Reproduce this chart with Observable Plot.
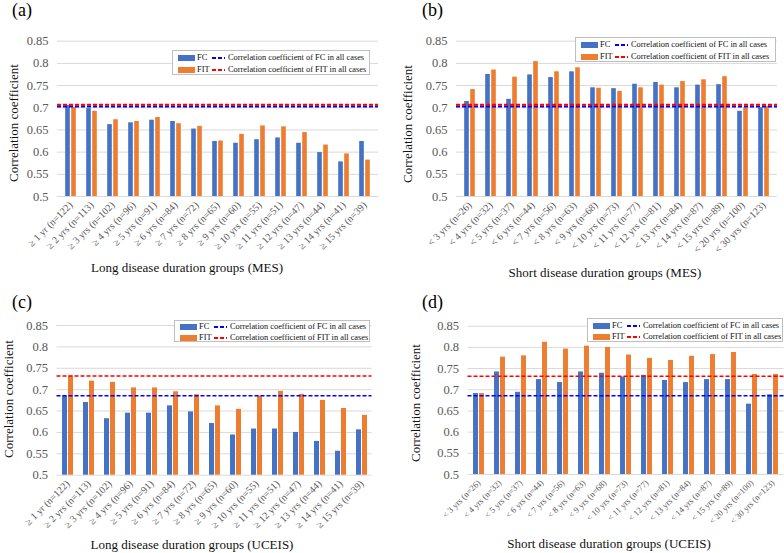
<!DOCTYPE html>
<html>
<head>
<meta charset="utf-8">
<script src="https://cdn.jsdelivr.net/npm/d3@7"></script>
<script src="https://cdn.jsdelivr.net/npm/@observablehq/plot@0.6"></script>
<style>
  html, body { margin: 0; padding: 0; background: #fff; }
  #wrap { position: relative; width: 784px; height: 553px; overflow: hidden; }
  #wrap, #wrap div, #wrap svg, #wrap text { font-family: "Liberation Serif", serif !important; }
  .panel { position: absolute; }
  .panel svg { position: absolute; left: 0; top: 0; overflow: visible; }
  .tag { position: absolute; font-size: 18px; line-height: 1; color: #000; }
  .xtitle { position: absolute; font-size: 13px; line-height: 1; color: #111; white-space: nowrap; transform: translate(-50%, -50%); }
  .ytitle { position: absolute; font-size: 13px; line-height: 1; color: #111; white-space: nowrap; transform: translate(-50%, -50%) rotate(-90deg); }
  .legend { position: absolute; border: 1px solid #bfbfbf; background: #fff; box-sizing: border-box; }
  .legend .sw { position: absolute; height: 6px; width: 17px; }
  .legend .lb { position: absolute; font-size: 8.4px; line-height: 1; color: #111; white-space: nowrap; transform: translateY(-50%); }
  .legend svg { position: absolute; }
</style>
</head>
<body>
<div id="wrap"></div>
<script>
// ---------------- data ----------------
const longCats = ["≥ 1 yr (n=122)", "≥ 2 yrs (n=113)", "≥ 3 yrs (n=102)", "≥ 4 yrs (n=96)", "≥ 5 yrs (n=91)", "≥ 6 yrs (n=84)", "≥ 7 yrs (n=72)", "≥ 8 yrs (n=65)", "≥ 9 yrs (n=60)", "≥ 10 yrs (n=55)", "≥ 11 yrs (n=51)", "≥ 12 yrs (n=47)", "≥ 13 yrs (n=44)", "≥ 14 yrs (n=41)", "≥ 15 yrs (n=39)"];
const shortCats = ["< 3 yrs (n=26)", "< 4 yrs (n=32)", "< 5 yrs (n=37)", "< 6 yrs (n=44)", "< 7 yrs (n=56)", "< 8 yrs (n=63)", "< 9 yrs (n=68)", "< 10 yrs (n=73)", "< 11 yrs (n=77)", "< 12 yrs (n=81)", "< 13 yrs (n=84)", "< 14 yrs (n=87)", "< 15 yrs (n=89)", "< 20 yrs (n=100)", "< 30 yrs (n=123)"];

// (a) Long, MES
const aFC  = [0.705, 0.698, 0.662, 0.666, 0.672, 0.669, 0.652, 0.624, 0.620, 0.628, 0.632, 0.620, 0.599, 0.578, 0.624];
const aFIT = [0.701, 0.692, 0.673, 0.669, 0.678, 0.664, 0.658, 0.625, 0.640, 0.659, 0.657, 0.644, 0.616, 0.596, 0.582];
// (b) Short, MES
const bFC  = [0.714, 0.775, 0.719, 0.774, 0.768, 0.781, 0.745, 0.743, 0.753, 0.757, 0.745, 0.751, 0.752, 0.692, 0.700];
const bFIT = [0.741, 0.785, 0.769, 0.804, 0.781, 0.790, 0.744, 0.737, 0.745, 0.751, 0.759, 0.763, 0.770, 0.700, 0.703];
// (c) Long, UCEIS
const cFC  = [0.685, 0.670, 0.632, 0.645, 0.645, 0.662, 0.648, 0.621, 0.594, 0.608, 0.608, 0.600, 0.579, 0.556, 0.606];
const cFIT = [0.732, 0.720, 0.717, 0.704, 0.704, 0.695, 0.688, 0.662, 0.654, 0.685, 0.696, 0.689, 0.675, 0.656, 0.640];
// (d) Short, UCEIS
const dFC  = [0.691, 0.742, 0.694, 0.724, 0.717, 0.742, 0.739, 0.730, 0.734, 0.722, 0.717, 0.724, 0.724, 0.666, 0.688];
const dFIT = [0.691, 0.777, 0.780, 0.812, 0.796, 0.803, 0.800, 0.782, 0.774, 0.769, 0.779, 0.783, 0.788, 0.736, 0.736];

// correlation coefficient in all cases
const mesAllFC = 0.703, mesAllFIT = 0.707;
const uceisAllFC = 0.686, uceisAllFIT = 0.732;

const yTicks = [0.5, 0.55, 0.6, 0.65, 0.7, 0.75, 0.8, 0.85];
const seriesNames = ["FC", "FIT"];
const tags = ["(a)", "(b)", "(c)", "(d)"];
const xTitles = ["Long disease duration groups (MES)", "Short disease duration groups (MES)", "Long disease duration groups (UCEIS)", "Short disease duration groups (UCEIS)"];
const yTitle = "Correlation coefficient";
const legendTexts = ["Correlation coefficient of FC in all cases", "Correlation coefficient of FIT in all cases"];

// ---------------- style / layout ----------------
const FONT = "Liberation Serif";
const colFC = "#4472C4", colFIT = "#ED7D31";
const lineFC = "#0000FF", lineFIT = "#FF0000";

const panels = [
  {cats: longCats,  fc: aFC, fit: aFIT, allFC: mesAllFC,   allFIT: mesAllFIT,   left: 0,   top: 0,   w: 392, h: 276, mt: 40.7, mb: 80,   ml: 57,   mr: 14,  xFont: 10,  refW: 2,   tag: [12, 1],  xt: [187, 267], yt: [13, 123], lg: [172, 50, 198, 25]},
  {cats: shortCats, fc: bFC, fit: bFIT, allFC: mesAllFC,   allFIT: mesAllFIT,   left: 392, top: 0,   w: 392, h: 276, mt: 40.7, mb: 80,   ml: 64,   mr: 7,   xFont: 10,  refW: 2,   tag: [30, 1],  xt: [213, 272], yt: [15, 124], lg: [183, 37, 201, 25]},
  {cats: longCats,  fc: cFC, fit: cFIT, allFC: uceisAllFC, allFIT: uceisAllFIT, left: 0,   top: 276, w: 392, h: 277, mt: 49,   mb: 78.3, ml: 56.5, mr: 20.5, xFont: 10, refW: 1.5, tag: [12, 17], xt: [192, 268], yt: [8, 123],  lg: [174, 44, 196, 22]},
  {cats: shortCats, fc: dFC, fit: dFIT, allFC: uceisAllFC, allFIT: uceisAllFIT, left: 392, top: 276, w: 392, h: 277, mt: 49.7, mb: 79,   ml: 75.5, mr: 0.5, xFont: 8.6, refW: 1.5, tag: [30, 17], xt: [217, 267], yt: [23, 127], lg: [195, 42, 196, 24]}
];

const wrap = document.getElementById("wrap");

function fmt(d) { return d.toFixed(2).replace(/0$/, ""); }

panels.forEach((p, idx) => {
  const rows = [];
  p.cats.forEach((c, i) => {
    rows.push({cat: c, series: seriesNames[0], value: p.fc[i]});
    rows.push({cat: c, series: seriesNames[1], value: p.fit[i]});
  });
  const bw = (p.w - p.ml - p.mr) / p.cats.length;
  const barW = 5, gap = 1;
  const inset = (bw - barW) / 2;
  const off = (barW + gap) / 2;

  const chart = Plot.plot({
    width: p.w, height: p.h,
    marginTop: p.mt, marginBottom: p.mb, marginLeft: p.ml, marginRight: p.mr,
    style: {fontFamily: FONT, color: "#595959", background: "transparent", overflow: "visible"},
    x: {domain: p.cats, padding: 0, label: null},
    y: {domain: [yTicks[0], yTicks[yTicks.length - 1]], label: null},
    marks: [
      Plot.gridY(yTicks, {stroke: "#d9d9d9", strokeOpacity: 1, strokeWidth: 1}),
      Plot.axisY(yTicks, {tickSize: 0, tickPadding: 9, fontSize: 12.5, fontFamily: FONT, tickFormat: fmt, label: null}),
      Plot.axisX({tickSize: 0, tickRotate: -45, tickPadding: 7, fontSize: p.xFont, fontFamily: FONT, label: null}),
      Plot.barY(rows.filter(d => d.series === "FC"), {x: "cat", y1: () => yTicks[0], y2: "value", fill: colFC, insetLeft: inset, insetRight: inset, dx: -off}),
      Plot.barY(rows.filter(d => d.series === "FIT"), {x: "cat", y1: () => yTicks[0], y2: "value", fill: colFIT, insetLeft: inset, insetRight: inset, dx: off}),
      Plot.ruleY([p.allFC], {stroke: lineFC, strokeWidth: p.refW, strokeDasharray: "4,2"}),
      Plot.ruleY([p.allFIT], {stroke: lineFIT, strokeWidth: p.refW, strokeDasharray: "4,2"})
    ]
  });

  const panel = document.createElement("div");
  panel.className = "panel";
  Object.assign(panel.style, {left: p.left + "px", top: p.top + "px", width: p.w + "px", height: p.h + "px"});
  panel.appendChild(chart);

  const tag = document.createElement("div");
  tag.className = "tag";
  tag.textContent = tags[idx];
  Object.assign(tag.style, {left: p.tag[0] + "px", top: p.tag[1] + "px"});
  panel.appendChild(tag);

  const xt = document.createElement("div");
  xt.className = "xtitle";
  xt.textContent = xTitles[idx];
  Object.assign(xt.style, {left: p.xt[0] + "px", top: p.xt[1] + "px"});
  panel.appendChild(xt);

  const yt = document.createElement("div");
  yt.className = "ytitle";
  yt.textContent = yTitle;
  Object.assign(yt.style, {left: p.yt[0] + "px", top: p.yt[1] + "px"});
  panel.appendChild(yt);

  // legend
  const lg = document.createElement("div");
  lg.className = "legend";
  const [lx, ly, lw, lh] = p.lg;
  Object.assign(lg.style, {left: lx + "px", top: ly + "px", width: lw + "px", height: lh + "px"});
  const rowY = [lh * 0.29, lh * 0.76];
  [[seriesNames[0], colFC, lineFC, legendTexts[0]], [seriesNames[1], colFIT, lineFIT, legendTexts[1]]].forEach((r, i) => {
    const cy = rowY[i];
    const sw = document.createElement("div");
    sw.className = "sw";
    Object.assign(sw.style, {left: "5px", top: (cy - 3) + "px", background: r[1]});
    lg.appendChild(sw);
    const lb = document.createElement("div");
    lb.className = "lb";
    lb.textContent = r[0];
    Object.assign(lb.style, {left: "24px", top: cy + "px"});
    lg.appendChild(lb);
    const ns = "http://www.w3.org/2000/svg";
    const s = document.createElementNS(ns, "svg");
    s.setAttribute("width", 13); s.setAttribute("height", 4);
    Object.assign(s.style, {left: "39px", top: (cy - 2) + "px"});
    const ln = document.createElementNS(ns, "line");
    ln.setAttribute("x1", 0); ln.setAttribute("x2", 13); ln.setAttribute("y1", 2); ln.setAttribute("y2", 2);
    ln.setAttribute("stroke", r[2]); ln.setAttribute("stroke-width", 2); ln.setAttribute("stroke-dasharray", "4,2");
    s.appendChild(ln);
    lg.appendChild(s);
    const tx = document.createElement("div");
    tx.className = "lb";
    tx.textContent = r[3];
    Object.assign(tx.style, {left: "55px", top: cy + "px"});
    lg.appendChild(tx);
  });
  panel.appendChild(lg);

  wrap.appendChild(panel);
});
</script>
</body>
</html>
